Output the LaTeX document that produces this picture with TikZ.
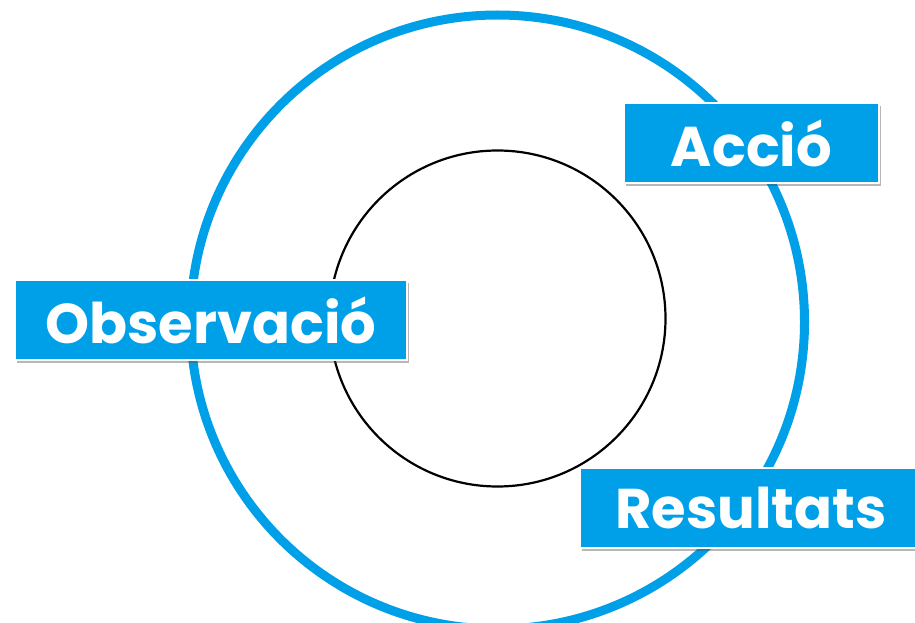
\documentclass[tikz,border=0pt]{standalone}
\usepackage{fontspec}
\setmainfont{Poppins}
\usetikzlibrary{shadows}
\definecolor{cblue}{HTML}{00A0E9}
\tikzset{
  ring/.style={circle, draw=cblue, line width=9pt, minimum size=614pt, inner sep=0pt},
  core/.style={circle, draw=black, line width=2.2pt, minimum size=336pt, inner sep=0pt},
  label/.style={rectangle, fill=cblue, draw=white, line width=2pt, minimum height=80pt, inner sep=0pt,
    text=white, font=\bfseries\fontsize{56}{60}\selectfont,
    drop shadow={shadow xshift=2pt, shadow yshift=-3pt, opacity=0.4, fill=black!70}}
}
\begin{document}
\begin{tikzpicture}[x=1pt,y=-1pt]
\useasboundingbox (0,0) rectangle (915,623);
\fill[white] (0,0) rectangle (915,623);
\node[ring] (outer) at (497.5,322) {};
\node[core] (inner) at (497.5,318.5) {};
\node[label, minimum width=255pt] (accio) at (751.5,143) {Acció};
\node[label, minimum width=392pt] (obs) at (211,320) {Observació};
\node[label, minimum width=342pt] (res) at (751,508) {Resultats};
\end{tikzpicture}
\end{document}
